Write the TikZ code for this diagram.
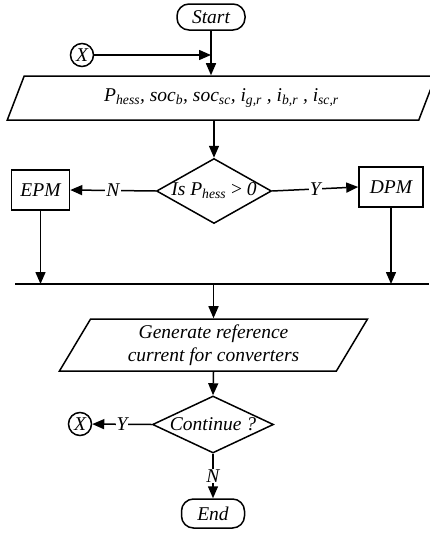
\documentclass[tikz,border=0pt]{standalone}
\usepackage{fontspec}
\setmainfont{Liberation Serif}
\usetikzlibrary{positioning, arrows.meta, shapes.geometric}

\newcommand{\sbs}[2]{#1\textsubscript{#2}}

\begin{document}
\begin{tikzpicture}[x=1pt, y=-1pt,
    arrow/.style={-{Triangle[length=12pt, width=10pt]}, line width=1.5pt},
    line/.style={line width=1.5pt},
    txt/.style={font=\fontsize{19.5}{23}\selectfont\itshape},
    terminal/.style={txt, rectangle, draw=black, line width=1.5pt, rounded corners=12pt,
                     minimum height=26pt, inner sep=0pt},
    block/.style={txt, rectangle, draw=black, line width=1.5pt, inner sep=0pt},
    io/.style={txt, trapezium, trapezium left angle=62, trapezium right angle=118,
               trapezium stretches=true, draw=black, line width=1.5pt, inner sep=0pt,
               align=center},
    decision/.style={txt, diamond, draw=black, line width=1.5pt, inner sep=-8pt},
    connector/.style={txt, circle, draw=black, line width=1.5pt, inner sep=0pt, minimum size=23pt},
    lbl/.style={txt, fill=white, inner sep=1pt}
]
    \useasboundingbox (0,0) rectangle (429,536);

    % Start and input
    \node[terminal, minimum width=68pt] (start) at (211,17) {Start};
    \node[connector] (x1) at (82,55) {X};
    \node[io, minimum width=429pt, minimum height=44pt] (inp) at (221.5,98)
        {\sbs{P}{hess}, \sbs{soc}{b}, \sbs{soc}{sc}, \sbs{i}{g,r} , \sbs{i}{b,r} , \sbs{i}{sc,r}};

    % === Mode selection ===
    \node[decision, aspect=1.77, minimum width=115pt, minimum height=65pt] (dec1) at (214,191)
        {Is \sbs{P}{hess} \textup{>} 0};
    \node[block, minimum width=58pt, minimum height=40pt] (epm) at (40.5,190) {EPM};
    \node[block, minimum width=64pt, minimum height=40pt] (dpm) at (391,187) {DPM};

    \coordinate (busL) at (15,284);
    \coordinate (busR) at (429,284);

    % === Reference generation ===
    \node[io, minimum width=309pt, minimum height=52pt] (gen) at (213.5,345)
        {Generate reference\\current for converters};
    \node[decision, aspect=2.1, minimum width=121pt, minimum height=57pt] (dec2) at (213,424.5) {Continue ?};
    \node[connector] (x2) at (80,424) {X};
    \node[terminal, minimum width=63pt, minimum height=29pt] (end) at (213,513.5) {End};

    % Connectors
    \draw[arrow] (start.south) -- (start.south |- inp.north);
    \draw[arrow] (x1) -- (x1 -| start.south);
    \draw[arrow] (dec1.north |- inp.south) -- (dec1.north);
    \draw[arrow] (dec1.west) -- node[lbl] {N} (epm.east);
    \draw[arrow] (dec1.east) -- node[lbl] {Y} (dpm.west);
    \draw[arrow] (epm.south) -- (epm.south |- busL);
    \draw[arrow] (dpm.south) -- (dpm.south |- busL);
    \draw[line] (busL) -- (busR);
    \draw[arrow] (gen.north |- busL) -- (gen.north);
    \draw[arrow] (gen.south) -- (dec2.north);
    \draw[arrow] (dec2.west) -- node[lbl] {Y} (x2);
    \draw[arrow] (dec2.south) -- node[lbl] {N} (end.north);

\end{tikzpicture}
\end{document}
